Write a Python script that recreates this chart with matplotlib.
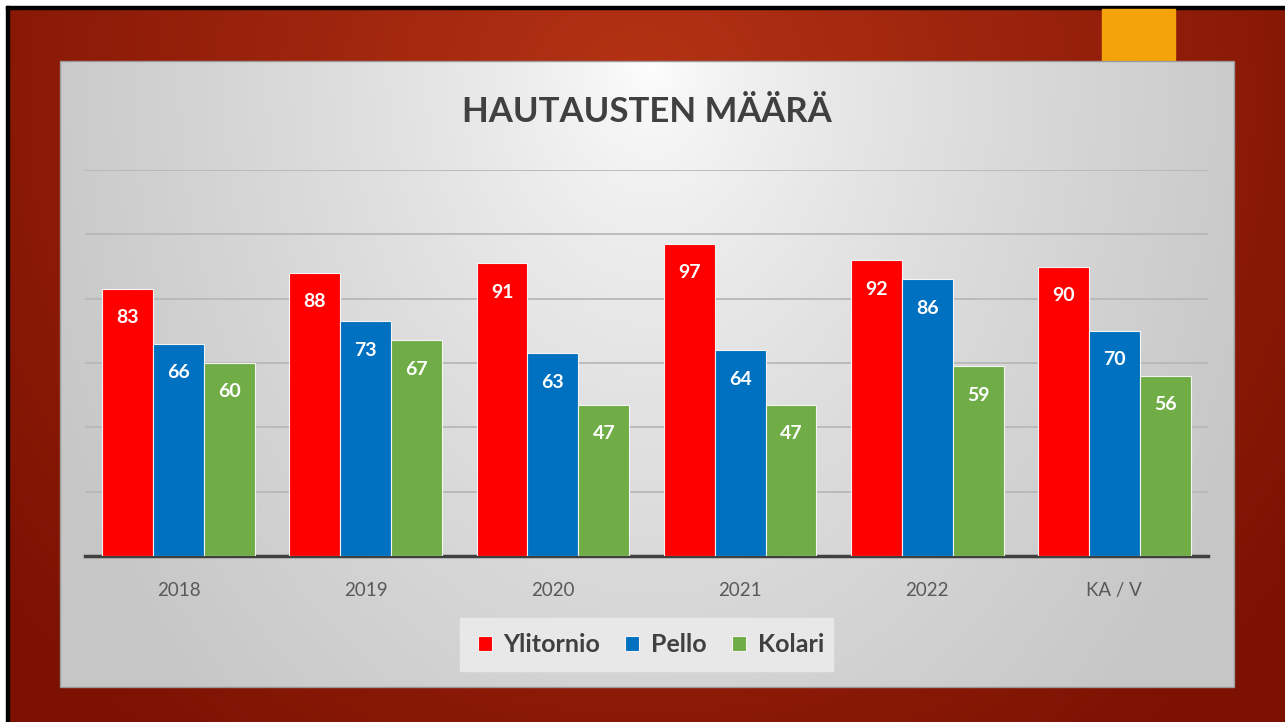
import numpy as np
import matplotlib.pyplot as plt
from matplotlib.patches import Rectangle

years = ['2018', '2019', '2020', '2021', '2022', 'KA / V']
ylitornio = [83, 88, 91, 97, 92, 90]
pello = [66, 73, 63, 64, 86, 70]
kolari = [60, 67, 47, 47, 59, 56]
series_names = ['Ylitornio', 'Pello', 'Kolari']
colors = ['#ff0000', '#0070c0', '#70ad47']

W, H = 1285, 722
fig = plt.figure(figsize=(W / 100, H / 100), dpi=100, facecolor='white')

# background: red slide + grey panel, drawn in pixel coordinates
bg = fig.add_axes([0, 0, 1, 1])
bg.axis('off')

yy, xx = np.mgrid[0:H + 20, 0:W + 20]
d = np.sqrt(((xx - 640) / 800.0) ** 2 + ((yy - 100) / 800.0) ** 2)
d = np.clip(d, 0, 1)
c_in = np.array([0.71, 0.20, 0.08])
c_out = np.array([0.49, 0.07, 0.01])
red = c_in[None, None, :] * (1 - d[..., None]) + c_out[None, None, :] * d[..., None]
bg.add_patch(Rectangle((9, 9), W + 20, H + 20, color='#8a1a08', zorder=0))
bg.imshow(red, extent=[0, W + 20, H + 20, 0], aspect='auto', zorder=0.5,
          interpolation='nearest')
bg.add_patch(Rectangle((0, 0), W + 20, 6, color='white', zorder=1))
bg.add_patch(Rectangle((0, 0), 6, H + 20, color='white', zorder=1))
bg.add_patch(Rectangle((6, 6), W + 20, 3, color='black', zorder=1))
bg.add_patch(Rectangle((6, 6), 3, H + 20, color='black', zorder=1))

# orange tab
bg.add_patch(Rectangle((1102, 9), 73, 52, color='#f4a40a', zorder=2))

# grey panel with soft radial highlight
px0, py0, px1, py1 = 60, 61, 1234, 687
py, pxg = np.mgrid[py0:py1, px0:px1]
dp = np.sqrt(((pxg - 650) / 650.0) ** 2 + ((py - 60) / 900.0) ** 2)
dp = np.clip(dp, 0, 1) ** 0.7
g = 1.0 * (1 - dp) + 0.78 * dp
bg.imshow(np.dstack([g, g, g]), extent=[px0, px1, py1, py0], aspect='auto', zorder=3)
bg.add_patch(Rectangle((px0, py0), px1 - px0, py1 - py0, fill=False,
                       edgecolor='#9a9a9a', lw=1, zorder=4))

# legend box
bg.add_patch(Rectangle((460, 618), 373, 53, color='#e8e8e8', zorder=4))

bg.text(647, 112, 'HAUTAUSTEN MÄÄRÄ', ha='center', va='center', fontsize=25,
        fontweight='bold', color='#404040', family='Lato', zorder=5)
bg.set_xlim(0, W)
bg.set_ylim(H, 0)

# chart
ax = fig.add_axes([85 / W, 1 - 556 / H, 1123 / W, 386 / H])
ax.patch.set_alpha(0)
x = np.arange(len(years))
bw = 0.272
for i, (vals, name, col) in enumerate(zip([ylitornio, pello, kolari], series_names, colors)):
    bars = ax.bar(x + (i - 1) * bw, vals, bw, color=col, edgecolor='#f4f4f4',
                  linewidth=0.8, label=name, zorder=3)
    for b, v in zip(bars, vals):
        ax.text(b.get_x() + b.get_width() / 2, v - 9, str(v), ha='center',
                va='center', color='white', fontsize=14, fontweight='bold',
                family='Lato', zorder=4)

ax.set_xlim(-0.5, len(years) - 0.5)
ax.set_ylim(0, 120)
ax.set_yticks(range(20, 121, 20))
ax.yaxis.grid(True, color='#b8b8b8', lw=1.3, zorder=0)
ax.tick_params(axis='y', left=False, labelleft=False)
ax.tick_params(axis='x', bottom=False, pad=15)
ax.set_xticks(x)
ax.set_xticklabels(years, fontsize=13.5, color='#595959', family='Lato')
for s in ['top', 'right', 'left']:
    ax.spines[s].set_visible(False)
ax.spines['bottom'].set_color('#404040')
ax.spines['bottom'].set_linewidth(2.5)

leg = ax.legend(loc='center', bbox_to_anchor=(651 / W, 1 - 645 / H),
                bbox_transform=fig.transFigure, ncol=3, frameon=False,
                handlelength=0.56, handleheight=0.56, handletextpad=0.48,
                columnspacing=1.0, prop={'family': 'Lato', 'weight': 'bold', 'size': 18})
for t in leg.get_texts():
    t.set_color('#404040')

fig.savefig('out.png', dpi=100)
